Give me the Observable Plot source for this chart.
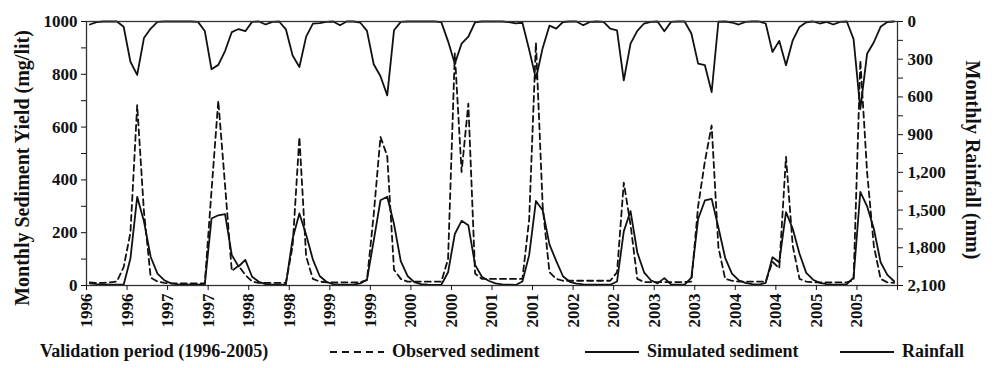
<!DOCTYPE html>
<html><head><meta charset="utf-8">
<script src="https://cdn.jsdelivr.net/npm/d3@7"></script>
<script src="https://cdn.jsdelivr.net/npm/@observablehq/plot@0.6"></script>
<style>
body{margin:0;background:#fff;font-family:"Liberation Serif","Times New Roman",serif;}
#wrap{position:relative;width:999px;height:368px;overflow:hidden;}
#legend{position:absolute;left:0;top:335px;width:999px;height:33px;font-weight:bold;font-size:18px;color:#111;}
.item{position:absolute;top:0;height:33px;display:flex;align-items:center;white-space:nowrap;}
.ylab{position:absolute;white-space:nowrap;font-weight:bold;font-size:20px;color:#111;line-height:1;}
</style></head><body><div id="wrap"><div id="chart"></div><div id="legend"></div></div>
<script>
const startYear = 1996;
const months = d3.range(120);
const rainfall = [
  24,5,0,0,0,42,320,425,132,56,
  3,0,0,0,0,0,3,75,380,345,
  235,84,60,77,3,0,24,3,0,62,
  270,362,120,17,13,3,0,30,0,0,
  8,75,340,435,588,70,3,0,0,0,
  0,0,5,158,336,176,120,6,0,0,
  0,0,5,15,10,225,455,210,33,57,
  4,0,0,30,3,0,3,57,70,468,
  176,75,16,3,0,77,3,0,0,95,
  335,348,562,2,0,8,24,3,0,0,
  16,242,154,348,150,43,6,0,16,3,
  24,3,0,140,697,257,165,42,4,0];
const simulated = [
  8,5,4,3,3,3,102,336,243,108,
  45,20,8,4,3,3,3,3,254,266,
  270,115,72,97,33,14,5,3,3,3,
  178,273,192,98,36,14,5,3,3,3,
  8,22,170,323,336,233,92,36,13,5,
  3,2,3,50,195,245,228,78,33,18,
  8,4,3,2,15,115,320,285,156,93,
  35,14,7,4,3,3,3,3,15,205,
  282,125,50,20,8,28,4,3,3,30,
  252,322,328,220,105,45,20,10,5,3,
  10,107,88,278,215,120,48,22,10,5,
  3,3,5,30,355,300,215,88,40,16];
const observed = [
  12,10,10,12,15,70,200,683,280,30,
  15,10,8,8,8,8,8,8,360,700,
  380,55,75,40,15,10,10,10,10,10,
  150,562,110,25,15,12,12,12,12,12,
  12,20,270,563,490,60,25,15,15,15,
  15,15,15,100,879,430,689,45,25,25,
  25,25,25,25,25,250,920,300,50,25,
  18,18,18,18,18,18,18,18,50,390,
  230,25,13,13,13,13,13,13,13,15,
  300,470,606,145,25,18,15,15,15,15,
  15,90,65,487,150,25,15,12,12,12,
  12,12,12,20,853,430,150,25,12,10];
const sedimentTicks = d3.range(0, 1001, 100);
const rainTicks = d3.range(0, 2101, 150);
const xTicks = d3.range(0, 121, 6);
const leftLabel = "Monthly Sediment Yield (mg/lit)";
const rightLabel = "Monthly Rainfall (mm)";
const periodLabel = "Validation period (1996-2005)";
const seriesLabels = ["Observed sediment", "Simulated sediment", "Rainfall"];
const seriesDash = ["7,5", null, null];

const rainMax = 2100;
const rainToY = r => 1000 - r * 1000 / rainMax;
const rows = months.map(i => ({x: i + 0.5, obs: observed[i], sim: simulated[i], rain: rainToY(rainfall[i])}));
const ink = "#111";
const fnt = {fontFamily: "Liberation Serif", fontWeight: "bold"};

const chart = Plot.plot({
  width: 999, height: 335,
  marginLeft: 86, marginRight: 102, marginTop: 21, marginBottom: 50,
  x: {domain: [0, 120]},
  y: {domain: [0, 1000]},
  style: {fontFamily: "Liberation Serif", fontWeight: "bold", fontSize: "17px", color: ink, background: "white"},
  marks: [
    Plot.line(rows, {x: "x", y: "rain", stroke: ink, strokeWidth: 1.8}),
    Plot.line(rows, {x: "x", y: "sim", stroke: ink, strokeWidth: 1.8}),
    Plot.line(rows, {x: "x", y: "obs", stroke: ink, strokeWidth: 1.8, strokeDasharray: "6,4"}),
    Plot.frame({stroke: "#333", strokeWidth: 1.3}),
    Plot.axisX(xTicks, {tickSize: 5, tickPadding: 3, tickRotate: -90, label: null, fontSize: 17, ...fnt,
      tickFormat: t => t < 120 ? String(startYear + Math.floor(t / 12)) : ""}),
    Plot.axisY(sedimentTicks, {anchor: "left", tickSize: 5, tickPadding: 4, label: null, fontSize: 17, ...fnt,
      tickFormat: d => d % 200 === 0 ? String(d) : ""}),
    Plot.axisY(rainTicks.map(rainToY), {anchor: "right", tickSize: 5, tickPadding: 5, label: null, fontSize: 17, ...fnt,
      tickFormat: d => { const r = Math.round((1000 - d) * rainMax / 1000); return r % 300 === 0 ? d3.format(",")(r) : ""; }})
  ]
});
document.getElementById("chart").appendChild(chart);

// axis titles (rotated HTML text)
const wrap = d3.select("#wrap");
wrap.append("div").attr("class", "ylab").text(leftLabel)
  .style("left", "22px").style("top", "168px")
  .style("transform", "translate(-50%,-50%) rotate(-90deg)");
wrap.append("div").attr("class", "ylab").text(rightLabel)
  .style("left", "973px").style("top", "160px")
  .style("transform", "translate(-50%,-50%) rotate(90deg)");

// legend
const legend = d3.select("#legend");
legend.append("div").attr("class", "item").style("left", "40px").text(periodLabel);
const sampleLeft = [330, 585, 840];
seriesLabels.forEach((lab, k) => {
  const it = legend.append("div").attr("class", "item").style("left", sampleLeft[k] + "px");
  const sv = it.append("svg").attr("width", 54).attr("height", 10).style("margin-right", "8px");
  sv.append("line").attr("x1", 0).attr("x2", 54).attr("y1", 5).attr("y2", 5)
    .attr("stroke", ink).attr("stroke-width", 1.8).attr("stroke-dasharray", seriesDash[k]);
  it.append("span").text(lab);
});
</script></body></html>
